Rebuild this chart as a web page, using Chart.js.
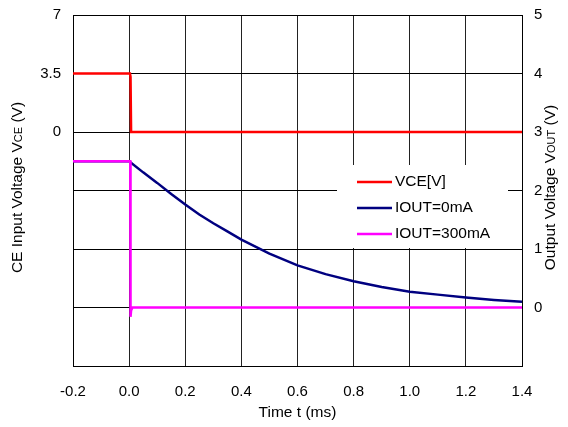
<!DOCTYPE html>
<html>
<head>
<meta charset="utf-8">
<script src="https://cdn.jsdelivr.net/npm/chart.js@4"></script>
<style>
  html, body { margin: 0; padding: 0; background: #fff; }
  #wrap { width: 568px; height: 427px; }
</style>
</head>
<body>
<div id="wrap"><canvas id="chart" width="568" height="427"></canvas></div>
<script>
// ── Data ──────────────────────────────────────────────────────
const vceTime   = [-0.2, 0.003, 0.005, 0.007, 1.4];
const vceValues = [3.5, 3.5, 3.3, 0, 0];

const out0Time   = [-0.2, 0.0, 0.05, 0.1, 0.15, 0.2, 0.25, 0.3, 0.35, 0.4, 0.5, 0.6, 0.7, 0.8, 0.9, 1.0, 1.1, 1.2, 1.3, 1.4];
const out0Values = [2.5, 2.5, 2.31, 2.13, 1.94, 1.76, 1.59, 1.44, 1.30, 1.16, 0.92, 0.72, 0.57, 0.45, 0.35, 0.27, 0.22, 0.17, 0.13, 0.10];

const out300Time   = [-0.2, 0.004, 0.005, 0.007, 0.012, 1.4];
const out300Values = [2.5, 2.5, -0.16, -0.05, 0, 0];

const xTicks     = [-0.2, 0.0, 0.2, 0.4, 0.6, 0.8, 1.0, 1.2, 1.4];
const vceTicks   = [0, 3.5, 7];
const voutTicks  = [0, 1, 2, 3, 4, 5];

const FONT = "'Liberation Sans', Arial, sans-serif";

function pts(xs, ys) {
  return xs.map((x, i) => ({ x, y: ys[i] }));
}

// ── Axis titles with small "CE"/"OUT" parts ───────────────────
function drawRotated(ctx, cx, cy, parts) {
  ctx.save();
  ctx.translate(cx, cy);
  ctx.rotate(-Math.PI / 2);
  let total = 0;
  parts.forEach(p => { ctx.font = p.size + "px " + FONT; total += ctx.measureText(p.text).width; });
  let x = -total / 2;
  ctx.fillStyle = "#000";
  ctx.textBaseline = "middle";
  ctx.textAlign = "left";
  parts.forEach(p => {
    ctx.font = p.size + "px " + FONT;
    ctx.fillText(p.text, x, p.dy || 0);
    x += ctx.measureText(p.text).width;
  });
  ctx.restore();
}

const titlesPlugin = {
  id: "titles",
  afterDraw(chart) {
    const { ctx, chartArea } = chart;
    const cy = (chartArea.top + chartArea.bottom) / 2 - 3;
    drawRotated(ctx, 18, cy, [
      { text: "CE Input Voltage V", size: 15.5 },
      { text: "CE", size: 11, dy: 1 },
      { text: " (V)", size: 15.5 },
    ]);
    drawRotated(ctx, 551, cy, [
      { text: "Output Voltage V", size: 15.5 },
      { text: "OUT", size: 11, dy: 1 },
      { text: " (V)", size: 15.5 },
    ]);
    ctx.save();
    ctx.font = "15.5px " + FONT;
    ctx.fillStyle = "#000";
    ctx.textAlign = "center";
    ctx.textBaseline = "middle";
    ctx.fillText("Time t (ms)", (chartArea.left + chartArea.right) / 2, 413);
    ctx.restore();
  },
};

// ── Legend box sitting inside the plot, white behind it ───────
const legendPlugin = {
  id: "boxLegend",
  afterDatasetsDraw(chart) {
    const { ctx, chartArea } = chart;
    const left = chartArea.right - 185, top = chartArea.top + 150;
    ctx.save();
    ctx.fillStyle = "#fff";
    ctx.fillRect(left, top, 171, 83);
    ctx.font = "15.5px " + FONT;
    ctx.textBaseline = "middle";
    ctx.textAlign = "left";
    chart.data.datasets.forEach((ds, i) => {
      const y = top + 17 + i * 26;
      ctx.strokeStyle = ds.borderColor;
      ctx.lineWidth = 2.5;
      ctx.beginPath();
      ctx.moveTo(left + 20, y);
      ctx.lineTo(left + 55, y);
      ctx.stroke();
      ctx.fillStyle = "#000";
      ctx.fillText(ds.label, left + 58, y);
    });
    ctx.restore();
  },
};

// vertical axes: drop the half-label padding so layout.padding sets the top
function fitSide(width) {
  return s => { s.width = width; s.paddingTop = 0; s.paddingBottom = 0; };
}

new Chart(document.getElementById("chart").getContext("2d"), {
  type: "line",
  data: {
    datasets: [
      {
        label: "VCE[V]",
        data: pts(vceTime, vceValues),
        yAxisID: "y",
        borderColor: "#ff0000",
        borderWidth: 2.5,
        pointRadius: 0,
        tension: 0,
        order: 1,
      },
      {
        label: "IOUT=0mA",
        data: pts(out0Time, out0Values),
        yAxisID: "y1",
        borderColor: "#000080",
        borderWidth: 2.5,
        pointRadius: 0,
        tension: 0,
        order: 2,
      },
      {
        label: "IOUT=300mA",
        data: pts(out300Time, out300Values),
        yAxisID: "y1",
        borderColor: "#ff00ff",
        borderWidth: 2.5,
        pointRadius: 0,
        tension: 0,
        order: 0,
      },
    ],
  },
  options: {
    responsive: false,
    animation: false,
    layout: { padding: { top: 15, left: 0, right: 0, bottom: 0 } },
    plugins: { legend: { display: false }, tooltip: { enabled: false } },
    scales: {
      x: {
        type: "linear",
        min: -0.2, max: 1.4,
        afterBuildTicks: s => { s.ticks = xTicks.map(v => ({ value: v })); },
        afterFit: s => { s.height = 61; },
        grid: { color: "#222", lineWidth: 1, drawTicks: false },
        border: { color: "#000", width: 1 },
        ticks: { color: "#000", padding: 17, font: { family: FONT, size: 15 }, callback: v => Number(v).toFixed(1) },
      },
      y: {
        position: "left",
        min: -14, max: 7,
        ticks: {
          stepSize: 3.5, color: "#000", padding: 12, font: { family: FONT, size: 15 },
          callback: v => (vceTicks.includes(v) ? String(v) : ""),
        },
        afterFit: fitSide(73),
        grid: { color: "#000", lineWidth: 1, drawTicks: false },
        border: { color: "#000", width: 1 },
      },
      y1: {
        position: "right",
        min: -1, max: 5,
        ticks: {
          stepSize: 1, color: "#000", padding: 12, font: { family: FONT, size: 15 },
          callback: v => (voutTicks.includes(v) ? String(v) : ""),
        },
        afterFit: fitSide(46),
        grid: { display: false, drawTicks: false },
        border: { color: "#000", width: 1 },
      },
    },
  },
  plugins: [legendPlugin, titlesPlugin],
});
</script>
</body>
</html>
